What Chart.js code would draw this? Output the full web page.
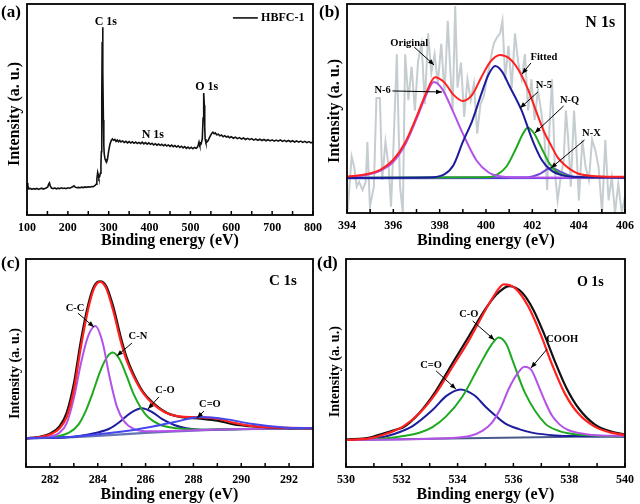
<!DOCTYPE html>
<html>
<head>
<meta charset="utf-8">
<script src="https://cdn.jsdelivr.net/npm/chart.js@4.4.1/dist/chart.umd.min.js"></script>
<style>
  body { margin: 0; background: #fff; }
  #wrap { position: relative; width: 640px; height: 504px; overflow: hidden; background: #fff; }
  canvas { position: absolute; }
  .tag { position: absolute; font: bold 17px 'Liberation Serif', 'Times New Roman', serif; line-height: 20px; color: #000; }
</style>
</head>
<body>
<div id="wrap">
  <canvas id="cA" width="332" height="250" style="left:0;top:0"></canvas>
  <canvas id="cB" width="320" height="250" style="left:320px;top:0"></canvas>
  <canvas id="cC" width="320" height="254" style="left:0;top:250px"></canvas>
  <canvas id="cD" width="320" height="254" style="left:320px;top:250px"></canvas>
  <div class="tag" style="left:1px;top:2px">(a)</div>
  <div class="tag" style="left:319px;top:2px">(b)</div>
  <div class="tag" style="left:1px;top:253px">(c)</div>
  <div class="tag" style="left:317px;top:253px">(d)</div>
</div>
<script>
const serif = "'Liberation Serif', 'Times New Roman', serif";

// (a) survey spectrum
const surveyEnergy = [
  100,102,104,108,112,116,120,124,128,132,136,140,144,148,151,153,155,157,
  160,164,168,172,176,180,184,188,192,196,200,204,208,212,215,218,222,226,230,234,238,242,246,250,254,258,262,266,
  269,271,273,274.5,276,278,279.5,281,282,283,284,285,286,287,288,289,291,293,295,297,300,303,306,309,
  312,315,318,321,324,327,330,334,338,342,346,350,354,358,362,366,370,374,378,382,386,390,394,398,402,406,410,
  414,418,422,426,430,434,438,442,446,450,454,458,462,466,470,474,478,482,486,490,494,498,502,506,510,514,
  517,519,521,523,526,529,531,532,533,534,535,536,538,540,543,546,549,552,555,
  558,561,564,568,572,576,580,584,588,592,596,600,605,610,615,620,625,630,635,640,
  645,650,655,660,665,670,675,680,685,690,695,700,705,710,715,720,725,730,735,740,745,750,755,760,765,770,775,780,785,790,795,800
];
const surveyCounts = [
  15.2,14.0,12.4,12.6,12.2,12.5,12.3,12.6,12.1,12.4,12.7,12.3,12.6,12.9,13.4,14.6,15.2,13.8,
  12.8,12.5,12.8,12.4,12.7,12.5,12.9,12.6,12.8,12.5,12.9,12.7,13.0,13.4,13.8,13.2,12.9,13.1,12.9,13.2,13.0,13.3,13.1,13.4,13.2,13.5,13.4,13.9,
  14.6,17.0,20.2,19.0,17.6,18.4,19.8,24,30,55,82,89,68,45,33,29,26.5,25.6,25.2,26.5,30.5,33.5,35.2,36.0,
  35.4,35.8,34.9,35.5,34.7,35.3,34.6,35.1,34.4,34.9,34.2,34.8,34.1,34.7,34.0,34.6,33.9,34.4,33.8,34.5,33.7,34.3,33.6,34.2,33.5,34.0,33.2,
  33.8,33.1,33.6,33.0,33.5,32.8,33.4,32.7,33.2,32.5,33.1,32.4,32.9,32.2,32.8,32.0,32.6,31.8,32.4,31.6,32.2,31.5,32.1,31.4,32.0,31.6,
  32.1,33.2,34.6,33.0,33.6,36,46,53,57.8,52,42,36,34.3,34.5,35.2,36.4,37.6,38.6,39.2,
  38.5,38.9,38.0,38.3,37.5,37.9,37.1,37.6,36.9,37.3,36.6,37.1,36.4,36.9,36.2,36.7,36.0,36.5,35.8,36.3,
  35.7,36.2,35.5,36.0,35.4,35.9,35.3,35.8,35.2,35.7,35.1,35.6,35.0,35.5,35.0,35.6,34.9,35.4,34.8,35.3,34.7,35.2,34.6,35.1,34.5,35.0,34.4,34.9,34.3,34.8,34.2,34.6
];

// (b) N 1s
const nRawE = [
  394.03,394.20,394.31,394.42,394.52,394.67,394.81,394.88,394.99,395.16,
  395.27,395.42,395.52,395.66,395.80,395.90,396.01,396.15,396.29,396.41,
  396.51,396.65,396.79,396.93,397.07,397.22,397.36,397.50,397.64,397.78,
  397.92,398.07,398.21,398.35,398.45,398.56,398.67,398.77,398.92,399.06,
  399.20,399.34,399.48,399.62,399.76,399.91,400.05,400.19,400.33,400.47,
  400.61,400.71,400.83,400.97,401.11,401.25,401.39,401.54,401.68,401.82,
  401.96,402.10,402.24,402.39,402.53,402.64,402.74,402.85,402.98,403.09,
  403.21,403.35,403.45,403.55,403.66,403.80,403.92,404.01,404.16,404.30,
  404.44,404.58,404.72,404.86,405.01,405.15,405.29,405.43,405.57,405.71,
  405.86,406.00
];
const nRaw = [
  1.4,27,22,12.6,15,11,15,34,3,12.6,
  55,55,15.8,34,22,3,33,76,12.6,0,
  76,54,70,49,73,81,52,86,67,76,
  62,81,57,92,70,49,99,60,72,46,
  64,54,62,38,52,56,65,73,81,84,
  86,92,64,80,60,86,72,64,76,49,
  64,44.5,59,48,35,11,41,64,19,6,
  15.8,25,49,35,12.6,49,27,6,35,22,
  15.8,35,30,22,0,35,6,17,0,14,
  0,8
];
const nFitE = [394,394.75,395.45,396,396.5,397,397.4,397.8,398.2,398.6,399,399.4,399.8,400.2,400.6,401,401.4,401.8,402.17,402.5,402.8,403.1,403.4,403.94,404.5,405.2,406];
const nFit  = [17.4,18.4,20.8,25.5,33.5,46,57,65,62.5,56.5,53.6,56.5,65,72.5,75.6,74,68.5,59.5,48.5,39,32.5,26.5,23,19,17.8,17.4,17.3];
const n6E = [394,394.75,395.45,396,396.5,397,397.4,397.75,398.1,398.56,399,399.6,400.1,400.6,401.5,406];
const n6  = [17.0,18.0,20.3,24.5,32.5,45,56,62.7,59.5,49,38,25,19.5,17.6,17.0,16.9];
const n5E = [394,397.5,398.2,398.6,399,399.4,399.8,400.1,400.4,400.7,401,401.54,402,402.4,402.8,403.3,404,406];
const n5  = [16.8,17.0,18.5,23,34,44,57,66,70.3,67.5,61,49,35,25.5,20.5,18,17.2,16.9];
const nQE = [394,400,400.5,400.9,401.3,401.6,401.8,402.05,402.4,402.75,403.1,403.6,404.2,406];
const nQ  = [16.9,17.1,18.5,22.5,31,38,40.8,38.5,31,23.5,19.3,17.5,17.0,16.9];
const nXE = [394,401.8,402.3,402.8,403.3,403.8,406];
const nX  = [16.9,17.1,18.6,21.5,19.3,17.4,17.0];
const nBgE = [394,406];
const nBg  = [16.6,16.8];

// (c) C 1s
const cE    = [281,281.5,282,282.4,282.7,283,283.3,283.6,283.85,284.1,284.35,284.65,284.95,285.2,285.5,285.9,286.3,286.9,287.5,288.3,289,289.7,290.4,291.2,292,293];
const cFit  = [13.8,14.3,15.6,18.5,24,37,58,76,86,89,86,75,61,51.5,43.5,35.5,30.5,25.8,24.2,23.9,23.2,21.2,19.8,19.1,18.8,18.6];
const cRaw  = [13.8,14.4,16.0,19.5,26,40,61,78,87,89.2,87,77,63,53,44.5,36,31,26,24,23.2,22.3,20.5,19.6,19.0,18.7,18.6];
const ccE = [281,282,282.4,282.7,283,283.3,283.6,283.9,284.2,284.5,284.8,285.1,285.5,286,287,288,290,293];
const cc  = [13.8,14.6,16.5,21,33,50,63,67.8,60,43,29,22,18.3,17.2,17.3,17.7,18.3,18.6];
const cnE = [281,282,282.8,283.2,283.5,283.8,284.1,284.4,284.63,284.9,285.2,285.5,285.8,286.1,286.6,287.3,288.3,290,293];
const cn  = [13.8,14.3,16.5,20.5,27,36,46,53,55,52,44,35,28.5,24,20.3,18.6,17.9,18.3,18.6];
const coE = [281,283,284,284.5,284.9,285.35,285.84,286.3,286.7,287.2,287.7,288.3,289.5,293];
const co  = [13.8,14.6,16.6,18.5,21.5,25.8,28.2,26.2,23,20.2,18.6,17.9,18.1,18.6];
const cdoE = [281,283,284.5,285.5,286.2,287.2,288.3,289.4,290.4,291.8,293];
const cdo  = [13.8,14.6,16.3,17.8,19.2,21.6,24.0,22.9,20.8,19.0,18.6];
const cBgE = [281,282,283,284,285,286,287,288,289,290,291,292,293];
const cBg  = [13.8,14.0,14.4,15.0,15.7,16.4,17.0,17.5,17.9,18.2,18.4,18.5,18.6];

// (d) O 1s
const oFitE = [530,530.85,531.45,532.04,532.63,533.22,533.82,534.41,535,535.36,535.65,536.07,536.54,537.01,537.37,537.84,538.32,538.91,539.5,540];
const oFit  = [13.0,13.8,16.0,19.4,25.8,35.4,48.2,61,75.5,83.5,87.8,85.9,77,62.7,49.8,35.4,25.8,19.4,16.5,15.4];
const oRawE = [530,530.85,531.45,531.9,532.04,532.63,533.22,533.82,534.41,535,535.36,535.85,536.3,536.7,537.1,537.45,537.9,538.35,538.91,539.5,540];
const oRaw  = [13.2,14.2,16.6,18.4,19.0,26,36.5,50,63,76,82.5,87,84,76,64,52,38,28,20.5,17,15.6];
const odoE = [530,530.8,531.45,532,532.4,533.1,533.6,534.1,534.6,535,535.35,535.7,536.2,536.7,537.5,538.5,540];
const odo  = [13.0,13.6,14.8,17.2,19.8,27.4,34.2,37.3,34.5,29,24.8,21,18.2,16.4,15.2,14.8,14.6];
const ocoE = [530,531.45,532,532.63,533.1,533.58,534.17,534.76,535.2,535.47,535.75,535.95,536.42,537.13,537.6,537.96,539.15,540];
const oco  = [13.0,13.8,14.8,16.5,19.2,24.2,33.8,48.2,58.5,62.3,59,52,35.5,21,17.5,16.2,14.9,14.8];
const ohE = [530,533,534.4,534.9,535.24,535.55,535.83,536.15,536.4,536.65,536.9,537.15,537.37,537.65,537.96,538.4,538.8,540];
const oh  = [13.0,13.6,14.8,17.5,21.5,28.5,37.5,45,48.2,46.5,39,31,25,20.5,17.8,16.2,15.4,14.9];
const oBgE = [530,535,540];
const oBg  = [13.0,14.0,14.9];

const pts = (xs, ys) => xs.map((x, i) => ({ x: x, y: ys[i] }));

function line(xs, ys, color, width, order, smooth) {
  return {
    data: pts(xs, ys),
    borderColor: color,
    borderWidth: width,
    pointRadius: 0,
    fill: false,
    tension: 0,
    cubicInterpolationMode: smooth ? 'monotone' : 'default',
    order: order
  };
}

// box around plot + inward ticks on the bottom axis
const framePlugin = {
  id: 'frame',
  afterDatasetsDraw(chart) {
    const { ctx, chartArea: a, scales: { x } } = chart;
    ctx.save();
    ctx.strokeStyle = '#000';
    ctx.lineWidth = 1.8;
    ctx.strokeRect(a.left, a.top, a.right - a.left, a.bottom - a.top);
    ctx.lineWidth = 1.5;
    ctx.beginPath();
    x.ticks.forEach(t => {
      const px = x.getPixelForValue(t.value);
      ctx.moveTo(px, a.bottom);
      ctx.lineTo(px, a.bottom - 4);
    });
    ctx.stroke();
    ctx.restore();
  }
};

// labels, arrows, y title
const notesPlugin = {
  id: 'notes',
  afterDraw(chart, args, opts) {
    const { ctx, scales: { x, y } } = chart;
    ctx.save();
    ctx.fillStyle = '#000';
    ctx.strokeStyle = '#000';
    (opts.arrows || []).forEach(([x1, y1, x2, y2]) => {
      const ax = x.getPixelForValue(x1), ay = y.getPixelForValue(y1);
      const bx = x.getPixelForValue(x2), by = y.getPixelForValue(y2);
      ctx.lineWidth = 1;
      ctx.beginPath(); ctx.moveTo(ax, ay); ctx.lineTo(bx, by); ctx.stroke();
      const g = Math.atan2(by - ay, bx - ax), c = Math.cos(g), s = Math.sin(g);
      ctx.beginPath();
      ctx.moveTo(bx, by);
      ctx.lineTo(bx - 6 * c + 2.4 * s, by - 6 * s - 2.4 * c);
      ctx.lineTo(bx - 6 * c - 2.4 * s, by - 6 * s + 2.4 * c);
      ctx.closePath();
      ctx.fill();
    });
    (opts.lines || []).forEach(([x1, y1, x2, y2]) => {
      ctx.lineWidth = 1.5;
      ctx.beginPath();
      ctx.moveTo(x.getPixelForValue(x1), y.getPixelForValue(y1));
      ctx.lineTo(x.getPixelForValue(x2), y.getPixelForValue(y2));
      ctx.stroke();
    });
    ctx.textBaseline = 'middle';
    (opts.texts || []).forEach(([t, tx, ty, size, align]) => {
      ctx.font = 'bold ' + size + 'px ' + serif;
      ctx.textAlign = align || 'center';
      ctx.fillText(t, x.getPixelForValue(tx), y.getPixelForValue(ty));
    });
    if (opts.yTitle) {
      const [t, px, py, size] = opts.yTitle;
      ctx.translate(px, py);
      ctx.rotate(-Math.PI / 2);
      ctx.font = 'bold ' + size + 'px ' + serif;
      ctx.textAlign = 'center';
      ctx.fillText(t, 0, 0);
    }
    ctx.restore();
  }
};

function makeChart(id, o) {
  return new Chart(document.getElementById(id), {
    type: 'line',
    data: { datasets: o.datasets },
    options: {
      responsive: false,
      animation: false,
      devicePixelRatio: 1,
      layout: { padding: o.pad },
      plugins: { legend: { display: false }, tooltip: { enabled: false }, notes: o.notes },
      scales: {
        x: {
          type: 'linear', min: o.xMin, max: o.xMax,
          grid: { display: false, drawTicks: false },
          border: { display: false },
          ticks: {
            stepSize: o.step, autoSkip: false, maxRotation: 0, padding: 6, color: '#000',
            font: { family: serif, weight: 'bold', size: 12 },
            callback: v => (v % o.major === 0 ? String(v) : '')
          },
          title: {
            display: true, text: 'Binding energy (eV)', color: '#000',
            font: { family: serif, weight: 'bold', size: 16 },
            padding: { top: 0, bottom: 0 }
          },
          afterFit: s => { s.height = o.xh; }
        },
        y: {
          min: 0, max: 100,
          grid: { display: false, drawTicks: false },
          border: { display: false },
          ticks: { display: false },
          afterFit: s => { s.width = o.yw; }
        }
      }
    },
    plugins: [framePlugin, notesPlugin]
  });
}

makeChart('cA', {
  xMin: 100, xMax: 800, step: 50, major: 100, xh: 35, yw: 27,
  pad: { left: 0, top: 4, right: 19, bottom: 0 },
  datasets: [line(surveyEnergy, surveyCounts, '#111', 1.6, 0, false)],
  notes: {
    texts: [['C 1s', 293, 91.5, 12], ['O 1s', 540, 60.7, 12], ['N 1s', 408, 37.9, 12], ['HBFC-1', 673, 93.4, 12, 'left']],
    lines: [[604, 93.4, 665, 93.4]],
    yTitle: ['Intensity (a. u.)', 15, 114, 16]
  }
});

makeChart('cB', {
  xMin: 394, xMax: 406, step: 1, major: 2, xh: 37, yw: 27,
  pad: { left: 0, top: 4, right: 12, bottom: 0 },
  datasets: [
    line(nFitE, nFit, '#ff2020', 2, 0, true),
    line(n5E, n5, '#1c1c9c', 2, 1, true),
    line(n6E, n6, '#b452e8', 2, 2, true),
    line(nQE, nQ, '#1fa91f', 2, 3, true),
    line(nXE, nX, '#7048d8', 2, 4, true),
    line(nBgE, nBg, '#3a3ad6', 2, 5, false),
    line(nRawE, nRaw, '#c6cdd1', 2, 6, false)
  ],
  notes: {
    texts: [['N 1s', 404.93, 90.9, 16], ['Original', 396.69, 81.3, 10.5], ['N-6', 395.54, 58.9, 10.5],
            ['Fitted', 402.5, 74.6, 10.5], ['N-5', 402.5, 61.2, 10.5], ['N-Q', 403.61, 54.1, 10.5], ['N-X', 404.55, 38.3, 10.5]],
    arrows: [[396.9, 79.4, 397.76, 70.8], [395.96, 58.4, 398.1, 57.9], [401.94, 71.8, 401.56, 66.5],
             [402.24, 57.9, 401.47, 50.2], [403.35, 51.2, 402.11, 38.3], [404.25, 34.9, 402.8, 21.5]],
    yTitle: ['Intensity (a. u.)', 15, 111, 16]
  }
});

makeChart('cC', {
  xMin: 281, xMax: 293, step: 1, major: 2, xh: 37, yw: 26,
  pad: { left: 0, top: 9, right: 7, bottom: 0 },
  datasets: [
    line(cdoE, cdo, '#4646ee', 2, 0, true),
    line(cE, cFit, '#ff2020', 2.2, 1, true),
    line(cE, cRaw, '#111', 2.2, 2, true),
    line(ccE, cc, '#b452e8', 2, 3, true),
    line(cnE, cn, '#1fa91f', 2, 4, true),
    line(coE, co, '#1c1c9c', 2, 5, true),
    line(cBgE, cBg, '#6474b4', 2.2, 6, true)
  ],
  notes: {
    texts: [['C 1s', 291.74, 89.4, 15], ['C-C', 283.05, 76.4, 10.5], ['C-N', 285.68, 63.0, 10.5],
            ['C-O', 286.81, 37.0, 10.5], ['C=O', 288.69, 30.3, 10.5]],
    arrows: [[283.17, 74.0, 283.84, 67.3], [285.43, 59.6, 284.8, 53.4], [286.56, 33.7, 286.1, 27.9], [288.44, 26.9, 288.15, 23.6]],
    yTitle: ['Intensity (a. u.)', 15, 123.5, 14]
  }
});

makeChart('cD', {
  xMin: 530, xMax: 540, step: 1, major: 2, xh: 37, yw: 26,
  pad: { left: 0, top: 9, right: 12, bottom: 0 },
  datasets: [
    line(oFitE, oFit, '#ff2020', 2.2, 0, true),
    line(oRawE, oRaw, '#111', 2.2, 1, true),
    line(ohE, oh, '#b452e8', 2, 2, true),
    line(ocoE, oco, '#1fa91f', 2, 3, true),
    line(odoE, odo, '#1c1c9c', 2, 4, true),
    line(oBgE, oBg, '#4a5a8a', 2, 5, false)
  ],
  notes: {
    texts: [['O 1s', 538.76, 88.9, 14], ['C-O', 534.4, 73.6, 10.5], ['COOH', 537.75, 61.2, 10.5], ['C=O', 533.05, 49.0, 10.5]],
    arrows: [[537.2, 56.6, 536.63, 47.6], [534.54, 70.2, 535.32, 61.1], [533.23, 46.2, 533.94, 37.5]],
    yTitle: ['Intensity (a. u.)', 15, 121.7, 14]
  }
});
</script>
</body>
</html>
